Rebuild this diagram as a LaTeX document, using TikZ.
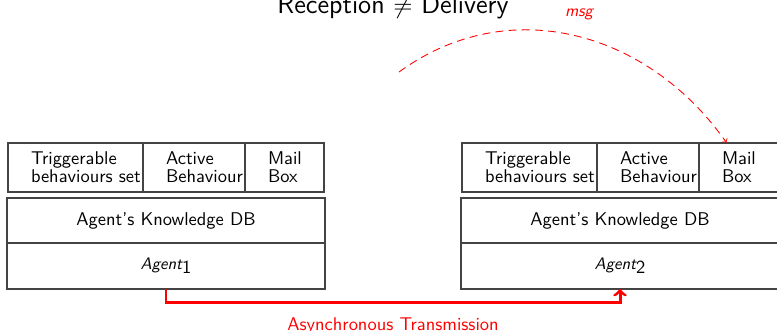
\documentclass[tikz,border=0pt]{standalone}
\usepackage{amsmath}
\usepackage{amssymb}
\usepackage{xcolor}
\usepackage{tikz}
\usetikzlibrary{positioning}
\definecolor{framecolor}{HTML}{444444}
\definecolor{msgcolor}{HTML}{FF0000}

\begin{document}
\begin{tikzpicture}[
    every node/.style={font=\sffamily\fontsize{10.5}{10}\selectfont},
    cell/.style={draw=framecolor, line width=0.9pt, outer sep=0pt,
                 minimum height=0.98cm, inner xsep=0.46cm,
                 align=left},
    layer/.style={draw=framecolor, line width=0.9pt, outer sep=0pt,
                  minimum width=6.36cm, minimum height=0.91cm},
    transmit/.style={draw=msgcolor, line width=1.7pt, ->},
    msgarc/.style={draw=msgcolor, line width=0.5pt, dash pattern=on 4.5pt off 3pt, ->}
]
\useasboundingbox (0,0) rectangle (15.54,-6.6);

% title
\node[anchor=base, font=\sffamily\fontsize{15.2}{18}\selectfont] (title) at (7.86,-0.26) {Reception $\neq$ Delivery};

% first agent
\node[layer] (kdb1) at (3.32,-4.41) {Agent's Knowledge DB};
\node[layer, below=0pt of kdb1] (ag1) {{\itshape\fontsize{9.5}{10}\selectfont Agent}\raisebox{-0.45ex}{1}};
\node[cell, text width=1.78cm, anchor=south west] (trig1) at ([xshift=0.02cm, yshift=0.12cm]kdb1.north west) {Triggerable\\\mbox{behaviours set}};
\node[cell, text width=1.12cm, right=0pt of trig1] (act1) {Active\\\mbox{Behaviour}};
\node[cell, text width=0.66cm, right=0pt of act1] (mail1) {Mail\\Box};

% second agent
\node[layer] (kdb2) at (12.40,-4.41) {Agent's Knowledge DB};
\node[layer, below=0pt of kdb2] (ag2) {{\itshape\fontsize{9.5}{10}\selectfont Agent}\raisebox{-0.45ex}{2}};
\node[cell, text width=1.78cm, anchor=south west] (trig2) at ([xshift=0.02cm, yshift=0.12cm]kdb2.north west) {Triggerable\\\mbox{behaviours set}};
\node[cell, text width=1.12cm, right=0pt of trig2] (act2) {Active\\\mbox{Behaviour}};
\node[cell, text width=0.66cm, right=0pt of act2] (mail2) {Mail\\Box};

% message in transit
\coordinate (src) at (7.98,-1.44);
\draw[msgarc] (src) to[out=36, in=125, looseness=1.04] ([xshift=-0.24cm]mail2.north);
\node[anchor=base, text=msgcolor, font=\sffamily\itshape\fontsize{9.5}{11}\selectfont] (msglbl) at (11.58,-0.32) {msg};

% transmission
\draw[transmit] (ag1.south) -- ++(0,-0.28) -| (ag2.south)
    node[pos=0.25, below=0.16cm, text=msgcolor] (asynclbl) {Asynchronous Transmission};
\end{tikzpicture}
\end{document}
